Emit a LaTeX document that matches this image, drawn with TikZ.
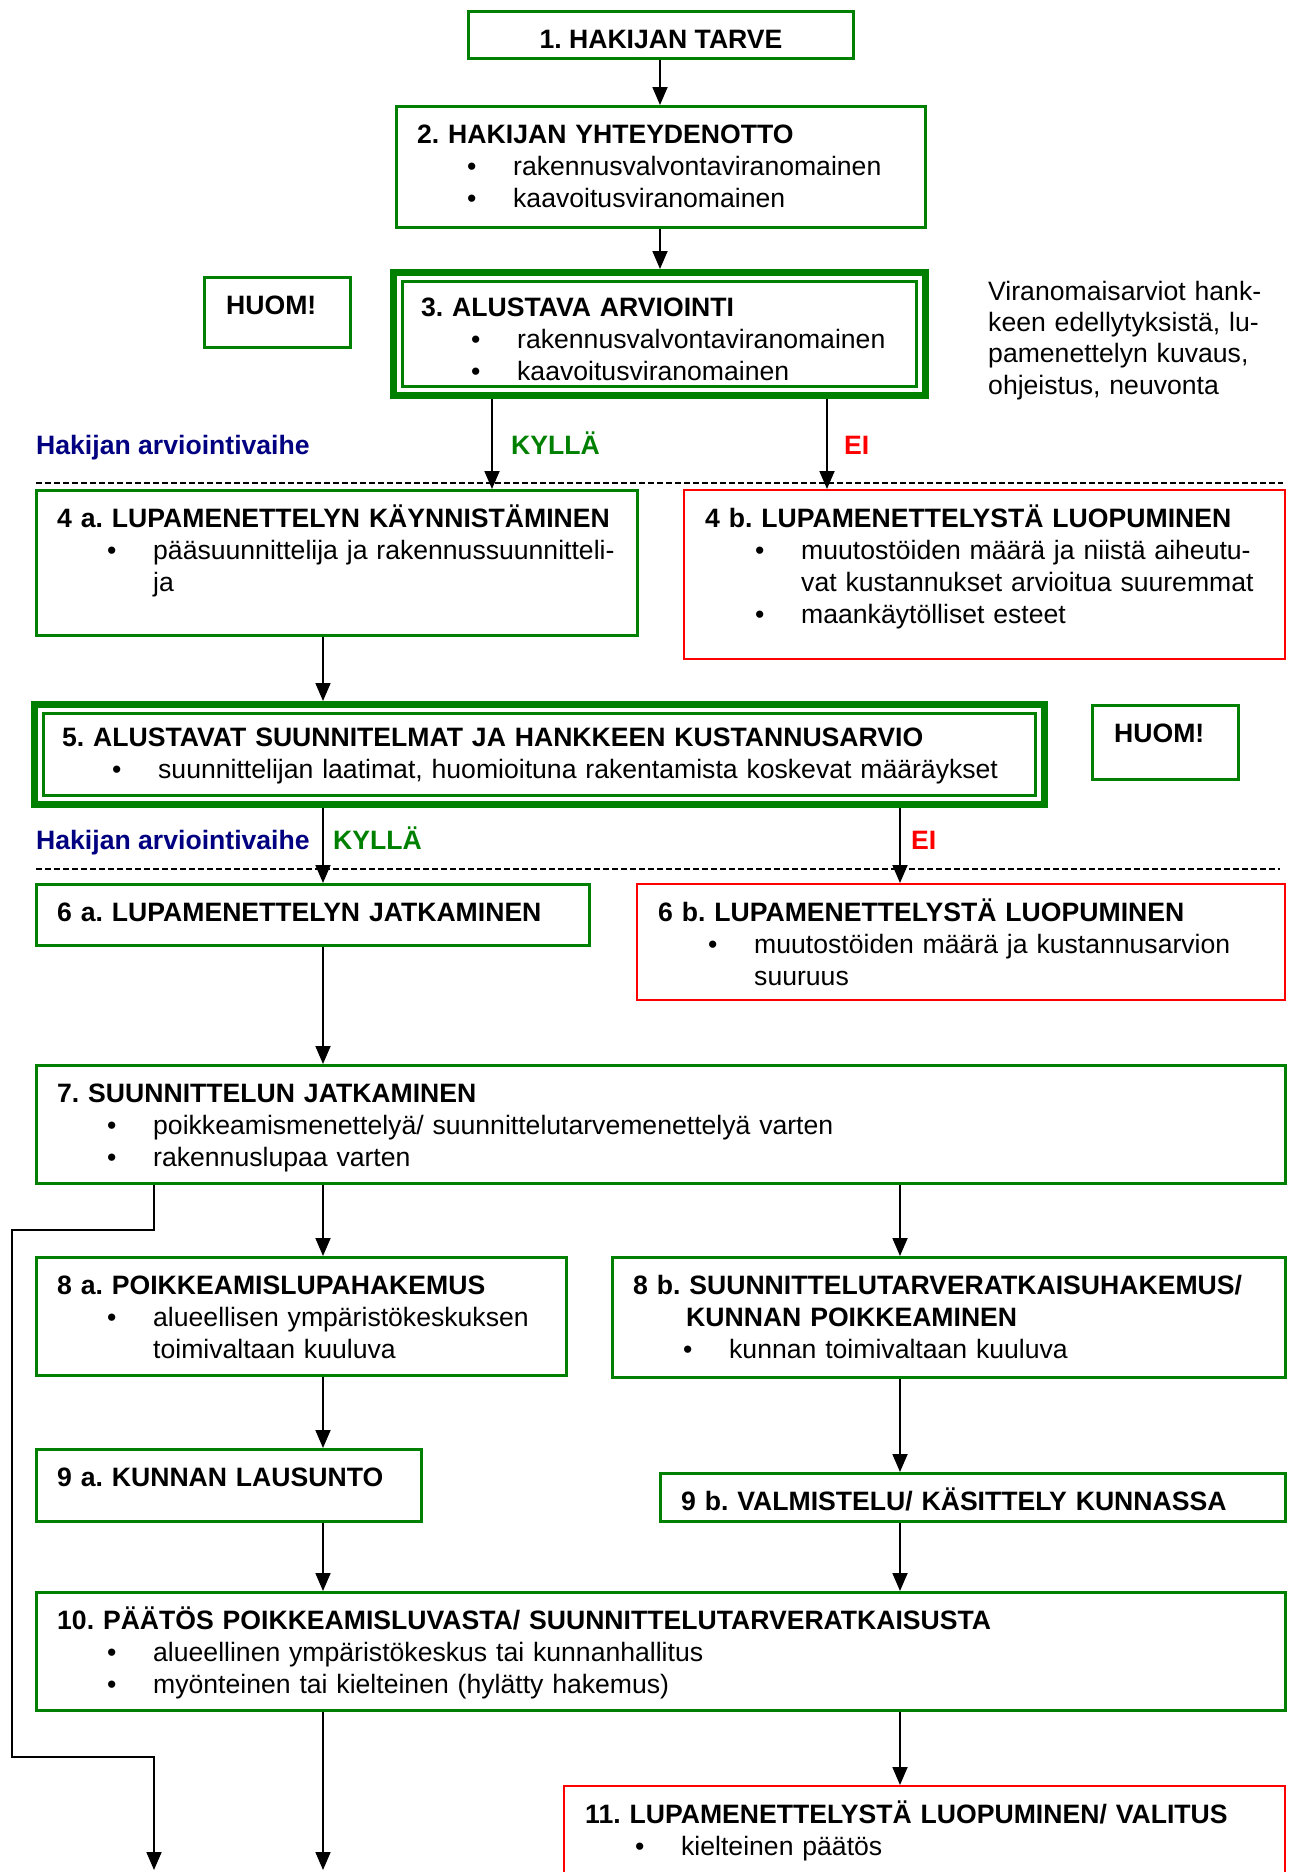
\documentclass[tikz,border=0pt]{standalone}
\usepackage{fontspec}
\setmainfont{Liberation Sans}
\usepackage{xcolor,tikz}
\usetikzlibrary{arrows.meta,positioning,calc}
\definecolor{wgreen}{HTML}{008000}
\definecolor{wred}{HTML}{FF0000}
\definecolor{wnavy}{HTML}{000080}
\frenchspacing
\newcommand\basefont{\fontsize{26.6}{32}\selectfont}
\newcommand\nl{\hfil\break}
\newcommand\bul[1]{\par\hangindent=96pt\hangafter=1\noindent\hbox to 96pt{\hskip 50pt\textbullet\hfil}#1\par}
\tikzset{gbox/.style={draw=wgreen,line width=3pt,anchor=north west,inner sep=0pt},
  rbox/.style={draw=wred,line width=2.4pt,anchor=north west,inner sep=0pt},
  dbox/.style={draw=wgreen,line width=7pt,anchor=north west,inner sep=0pt},
  txt/.style={anchor=base west,align=left,text width=#1,inner sep=0pt,font=\basefont},
  txt/.default=1150pt,
  lab/.style={anchor=base west,inner sep=0pt,font=\basefont\bfseries},
  flow/.style={-{Triangle[length=18pt,width=15pt]},line width=1.8pt},
  sep/.style={dash pattern=on 6pt off 3pt,line width=2pt}}

\begin{document}
\begin{tikzpicture}[x=1pt,y=-1pt]
\clip (0,0) rectangle (1294,1872);
% boxes
\node[gbox,minimum width=385pt,minimum height=47pt] (b1) at (467,10) {};
\node[gbox,minimum width=529pt,minimum height=121pt] (b2) at (395,105) {};
\node[gbox,minimum width=146pt,minimum height=70pt] (hu1) at (203,276) {};
\node[gbox,minimum width=601pt,minimum height=145pt] (b4a) at (35,489) {};
\node[rbox,minimum width=601pt,minimum height=169pt] (b4b) at (683,489) {};
\node[gbox,minimum width=146pt,minimum height=74pt] (hu2) at (1091,704) {};
\node[gbox,minimum width=553pt,minimum height=61pt] (b6a) at (35,883) {};
\node[rbox,minimum width=648pt,minimum height=116pt] (b6b) at (636,883) {};
\node[gbox,minimum width=1249pt,minimum height=118pt] (b7) at (35,1064) {};
\node[gbox,minimum width=530pt,minimum height=118pt] (b8a) at (35,1256) {};
\node[gbox,minimum width=673pt,minimum height=120pt] (b8b) at (611,1256) {};
\node[gbox,minimum width=385pt,minimum height=72pt] (b9a) at (35,1448) {};
\node[gbox,minimum width=625pt,minimum height=48pt] (b9b) at (659,1472) {};
\node[gbox,minimum width=1249pt,minimum height=118pt] (b10) at (35,1591) {};
\node[rbox,minimum width=721pt,minimum height=140pt] (b11) at (563,1785) {};

% texts
\node[lab,anchor=base] (t1) at ([yshift=-38pt]b1.north) {1. HAKIJAN TARVE};
\node[txt] (t2) at ([shift={(22,38)}]b2.north west) {\textbf{2. HAKIJAN YHTEYDENOTTO}
  \bul{rakennusvalvontaviranomainen}\bul{kaavoitusviranomainen}};
\node[txt] (t3) at (421,316) {\textbf{3. ALUSTAVA ARVIOINTI}
  \bul{rakennusvalvontaviranomainen}\bul{kaavoitusviranomainen}};
\node[lab] (th1) at ([shift={(23,38)}]hu1.north west) {HUOM!};
\node[txt=300pt] (note) at (988,300) {\fontsize{26.6}{31}\selectfont Viranomaisarviot hank-\\keen edellytyksistä, lu-\\pamenettelyn kuvaus,\\ohjeistus, neuvonta};
\node[txt] (t4a) at ([shift={(22,38)}]b4a.north west) {\textbf{4 a. LUPAMENETTELYN KÄYNNISTÄMINEN}
  \bul{pääsuunnittelija ja rakennussuunnitteli-\nl ja}};
\node[txt] (t4b) at ([shift={(22,38)}]b4b.north west) {\textbf{4 b. LUPAMENETTELYSTÄ LUOPUMINEN}
  \bul{muutostöiden määrä ja niistä aiheutu-\nl vat kustannukset arvioitua suuremmat}\bul{maankäytölliset esteet}};
\node[txt] (t5) at (62,746) {\textbf{5. ALUSTAVAT SUUNNITELMAT JA HANKKEEN KUSTANNUSARVIO}
  \bul{suunnittelijan laatimat, huomioituna rakentamista koskevat määräykset}};
\node[lab] (th2) at ([shift={(23,38)}]hu2.north west) {HUOM!};
\node[txt] (t6a) at ([shift={(22,38)}]b6a.north west) {\textbf{6 a. LUPAMENETTELYN JATKAMINEN}};
\node[txt] (t6b) at ([shift={(22,38)}]b6b.north west) {\textbf{6 b. LUPAMENETTELYSTÄ LUOPUMINEN}
  \bul{muutostöiden määrä ja kustannusarvion\nl suuruus}};
\node[txt] (t7) at ([shift={(22,38)}]b7.north west) {\textbf{7. SUUNNITTELUN JATKAMINEN}
  \bul{poikkeamismenettelyä/ suunnittelutarvemenettelyä varten}\bul{rakennuslupaa varten}};
\node[txt] (t8a) at ([shift={(22,38)}]b8a.north west) {\textbf{8 a. POIKKEAMISLUPAHAKEMUS}
  \bul{alueellisen ympäristökeskuksen\nl toimivaltaan kuuluva}};
\node[txt] (t8b) at ([shift={(22,38)}]b8b.north west) {\textbf{8 b. SUUNNITTELUTARVERATKAISUHAKEMUS/}\\
  \hspace*{53pt}\textbf{KUNNAN POIKKEAMINEN}
  \bul{kunnan toimivaltaan kuuluva}};
\node[txt] (t9a) at ([shift={(22,38)}]b9a.north west) {\textbf{9 a. KUNNAN LAUSUNTO}};
\node[txt] (t9b) at ([shift={(22,38)}]b9b.north west) {\textbf{9 b. VALMISTELU/ KÄSITTELY KUNNASSA}};
\node[txt] (t10) at ([shift={(22,38)}]b10.north west) {\textbf{10. PÄÄTÖS POIKKEAMISLUVASTA/ SUUNNITTELUTARVERATKAISUSTA}
  \bul{alueellinen ympäristökeskus tai kunnanhallitus}\bul{myönteinen tai kielteinen (hylätty hakemus)}};
\node[txt] (t11) at ([shift={(22,38)}]b11.north west) {\textbf{11. LUPAMENETTELYSTÄ LUOPUMINEN/ VALITUS}
  \bul{kielteinen päätös}};

% double frames drawn over their texts
\node[dbox,minimum width=532pt,minimum height=123pt] (b3) at (390,269) {};
\draw[white,line width=3.5pt] ([shift={(9,9)}]b3.north west) rectangle ([shift={(-9,-9)}]b3.south east);
\draw[wgreen,line width=2.5pt] ([shift={(12.5,12.5)}]b3.north west) rectangle ([shift={(-12.5,-12.5)}]b3.south east);
\node[dbox,minimum width=1010pt,minimum height=100pt] (b5) at (31,701) {};
\draw[white,line width=3.5pt] ([shift={(9,9)}]b5.north west) rectangle ([shift={(-9,-9)}]b5.south east);
\draw[wgreen,line width=2.5pt] ([shift={(12.5,12.5)}]b5.north west) rectangle ([shift={(-12.5,-12.5)}]b5.south east);

% phase labels and separators
\node[lab,text=wnavy] (ph1) at (36,454) {Hakijan arviointivaihe};
\node[lab,text=wgreen] (y1) at (511,454) {KYLLÄ};
\node[lab,text=wred] (n1) at (844,454) {EI};
\node[lab,text=wnavy] (ph2) at (36,849) {Hakijan arviointivaihe};
\node[lab,text=wgreen] (y2) at (333,849) {KYLLÄ};
\node[lab,text=wred] (n2) at (911,849) {EI};
\coordinate (s1) at (36,483); \coordinate (s2) at (1283,483);
\coordinate (s3) at (36,869); \coordinate (s4) at (1280,869);
\draw[sep] (s1) -- (s2);
\draw[sep] (s3) -- (s4);

% columns for the connectors
\coordinate (cM) at (660,0);
\coordinate (cA) at (323,0);
\coordinate (cB) at (900,0);
\coordinate (cK) at (492,0);
\coordinate (cE) at (827,0);
\coordinate (w1) at (12,1230);
\coordinate (w2) at (12,1757);
\coordinate (end1) at (154,1870);
\coordinate (end2) at (323,1870);

\draw[flow] (b1.south -| cM) -- (b2.north -| cM);
\draw[flow] (b2.south -| cM) -- (b3.north -| cM);
\draw[flow] (b3.south -| cK) -- (b4a.north -| cK);
\draw[flow] (b3.south -| cE) -- (b4b.north -| cE);
\draw[flow] (b4a.south -| cA) -- (b5.north -| cA);
\draw[flow] (b5.south -| cA) -- (b6a.north -| cA);
\draw[flow] (b5.south -| cB) -- (b6b.north -| cB);
\draw[flow] (b6a.south -| cA) -- (b7.north -| cA);
\draw[flow] (b7.south -| cA) -- (b8a.north -| cA);
\draw[flow] (b7.south -| cB) -- (b8b.north -| cB);
\draw[flow] (b7.south -| end1) |- (w1) -- (w2) -| (end1);
\draw[flow] (b8a.south -| cA) -- (b9a.north -| cA);
\draw[flow] (b8b.south -| cB) -- (b9b.north -| cB);
\draw[flow] (b9a.south -| cA) -- (b10.north -| cA);
\draw[flow] (b9b.south -| cB) -- (b10.north -| cB);
\draw[flow] (b10.south -| cA) -- (end2);
\draw[flow] (b10.south -| cB) -- (b11.north -| cB);
\end{tikzpicture}
\end{document}
